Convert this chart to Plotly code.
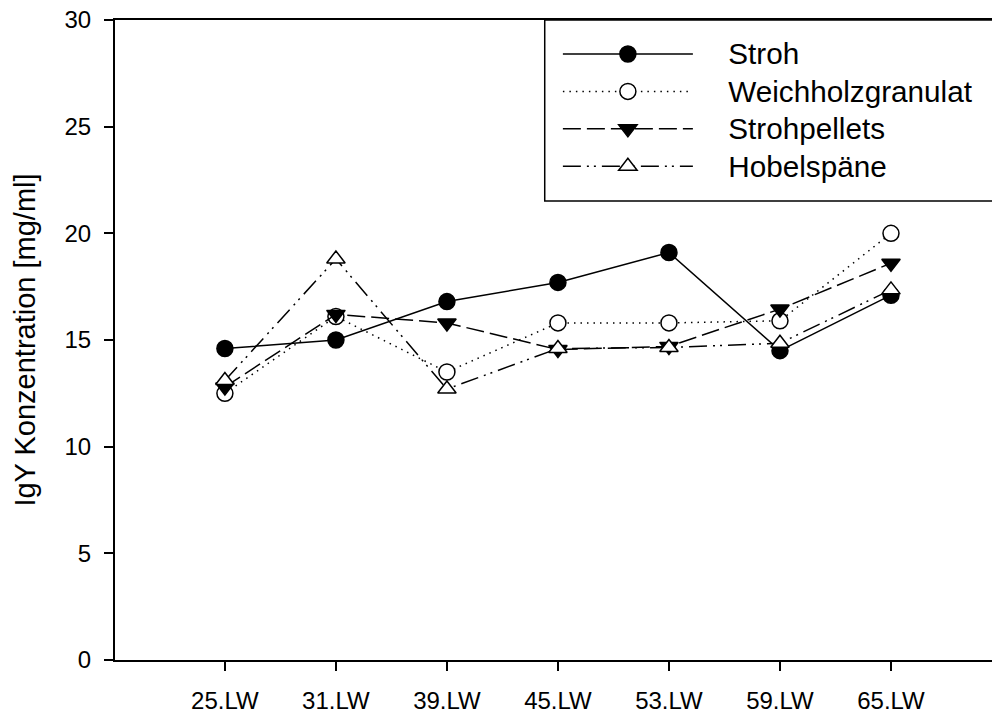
import plotly.graph_objects as go

# Laying weeks (Lebenswoche) on the x axis
weeks = ["25.LW", "31.LW", "39.LW", "45.LW", "53.LW", "59.LW", "65.LW"]

# IgY concentration [mg/ml] per litter material
stroh = [14.6, 15.0, 16.8, 17.7, 19.1, 14.5, 17.1]
weichholzgranulat = [12.5, 16.1, 13.5, 15.8, 15.8, 15.9, 20.0]
strohpellets = [12.8, 16.2, 15.8, 14.55, 14.7, 16.45, 18.6]
hobelspaene = [13.1, 18.8, 12.7, 14.6, 14.65, 14.85, 17.35]

FONT = "Liberation Sans, Arial, sans-serif"

series = [
    ("Stroh", stroh, "solid", "circle", "black"),
    ("Weichholzgranulat", weichholzgranulat, "1.5px,5px", "circle", "white"),
    ("Strohpellets", strohpellets, "18px,6px", "triangle-down", "black"),
    ("Hobelspäne", hobelspaene, "18px,6px,2px,5px,2px,6px", "triangle-up", "white"),
]

fig = go.Figure()
for name, vals, dash, symbol, fill in series:
    fig.add_trace(go.Scatter(
        x=weeks, y=vals, mode="lines+markers",
        # legend label: larger glyphs than the row spacing font, offset from the sample line
        name='   <span style="font-size:29.7px"> ' + name + "</span>",
        line=dict(color="black", width=1.5, dash=dash),
        marker=dict(symbol=symbol, size=16, color=fill,
                    line=dict(color="black", width=1.5)),
    ))

fig.update_layout(
    width=992, height=713,
    margin=dict(l=115, r=0, t=20, b=53),
    paper_bgcolor="white", plot_bgcolor="white",
    font=dict(family=FONT, color="black"),
    showlegend=True,
    legend=dict(
        x=0.505, y=0.984, xanchor="left", yanchor="top",
        bgcolor="rgba(0,0,0,0)", borderwidth=0,
        font=dict(size=26.5, family=FONT), itemwidth=130,
        tracegroupgap=0,
    ),
    xaxis=dict(
        type="category", range=[-0.99, 6.91],
        showline=True, linecolor="black", linewidth=2, mirror=True,
        ticks="outside", ticklen=9, tickwidth=1.5, tickcolor="black",
        tickfont=dict(size=24), showgrid=False, zeroline=False,
        ticklabelstandoff=9,
    ),
    yaxis=dict(
        range=[0, 30], tickvals=[0, 5, 10, 15, 20, 25, 30],
        showline=True, linecolor="black", linewidth=2,
        ticks="outside", ticklen=9, tickwidth=1.5, tickcolor="black",
        tickfont=dict(size=24), showgrid=False, zeroline=False,
        ticklabelstandoff=8,
        title=dict(text="IgY Konzentration [mg/ml]", font=dict(size=29), standoff=20),
    ),
    shapes=[dict(
        type="rect", xref="paper", yref="paper",
        x0=0.490, x1=1.1, y0=0.717, y1=1.0,
        line=dict(color="black", width=1.5), fillcolor="rgba(0,0,0,0)",
    )],
)

fig.write_html("out.html")
